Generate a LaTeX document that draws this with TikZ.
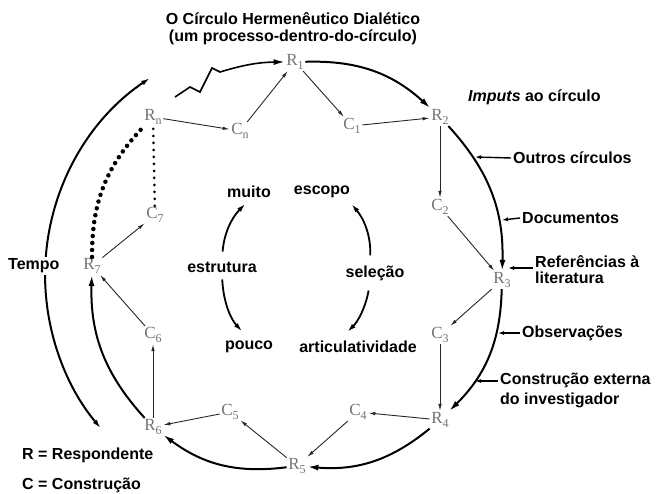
\documentclass[tikz,border=0pt]{standalone}
\usepackage{fontspec}
\setmainfont{Liberation Sans}
\newfontfamily\serifrc{Liberation Serif}
\usetikzlibrary{arrows.meta}
\newcommand{\rc}[2]{#1\raisebox{-3.5pt}{\fontsize{12}{12}\selectfont #2}}

\begin{document}
\begin{tikzpicture}[
    x=1pt, y=1pt,
    resp/.style={font=\serifrc\fontsize{17}{17}\selectfont, text=black!55, inner sep=1.5pt},
    lbl/.style={font=\bfseries\fontsize{16}{17}\selectfont, inner sep=2pt},
    link/.style={-{Latex[length=7pt,width=3.5pt]}, line width=0.9pt, black!85},
    bigarc/.style={-{Latex[length=11pt,width=6pt]}, line width=2pt},
    softarc/.style={-{Latex[length=9pt,width=5pt]}, line width=1.8pt},
    feed/.style={-{Latex[length=6pt,width=4pt]}, line width=1.4pt},
    dotline/.style={line width=#1, dash pattern=on 0pt off 7pt, line cap=round}
]
\useasboundingbox (0,0) rectangle (656,493);

\node[lbl, align=center] (title) at (293,464) {O Círculo Hermenêutico Dialético\\(um processo-dentro-do-círculo)};

\node[resp] (R1) at (295,431) {\rc{R}{1}};
\node[resp] (R2) at (440,376) {\rc{R}{2}};
\node[resp] (R3) at (502,213) {\rc{R}{3}};
\node[resp] (R4) at (440,73) {\rc{R}{4}};
\node[resp] (R5) at (297,27) {\rc{R}{5}};
\node[resp] (R6) at (153,66) {\rc{R}{6}};
\node[resp] (R7) at (92,227) {\rc{R}{7}};
\node[resp] (Rn) at (153,376) {\rc{R}{n}};
\node[resp] (C1) at (352,367) {\rc{C}{1}};
\node[resp] (C2) at (440,286) {\rc{C}{2}};
\node[resp] (C3) at (440,158) {\rc{C}{3}};
\node[resp] (C4) at (358,81) {\rc{C}{4}};
\node[resp] (C5) at (230,81) {\rc{C}{5}};
\node[resp] (C6) at (153,158) {\rc{C}{6}};
\node[resp] (C7) at (155,278) {\rc{C}{7}};
\node[resp] (Cn) at (240,362) {\rc{C}{n}};

\draw[link] (Cn) -- (R1);
\draw[link] (R1) -- (C1);
\draw[link] (C1) -- (R2);
\draw[link] (R2) -- (C2);
\draw[link] (C2) -- (R3);
\draw[link] (R3) -- (C3);
\draw[link] (C3) -- (R4);
\draw[link] (R4) -- (C4);
\draw[link] (C4) -- (R5);
\draw[link] (R5) -- (C5);
\draw[link] (C5) -- (R6);
\draw[link] (R6) -- (C6);
\draw[link] (C6) -- (R7);
\draw[link] (R7) -- (C7);
\draw[link] (Rn) -- (Cn);

\draw[bigarc] (R1) to[bend left=22] (R2);
\draw[bigarc] (R2) to[bend left=22] (R3);
\draw[bigarc] (R3) to[bend left=22] (R4);
\draw[bigarc] (R4) to[bend left=22] (R5);
\draw[bigarc] (R5) to[bend left=22] (R6);
\draw[bigarc] (R6) to[bend left=22] (R7);
\draw[dotline=4.5pt] (R7) to[bend left=22] (Rn);
\draw[dotline=3pt] (C7) -- (Rn);

\coordinate (zz) at (175,396);
\draw[bigarc, line width=1.6pt] (zz) -- ++(15,10) -- ++(10,-5) -- ++(12,24) -- ++(8,-4) to[bend left=8] (R1);

\coordinate (ttop) at (150,415);
\draw[softarc, {Latex[length=9pt,width=5pt]}-{Latex[length=9pt,width=5pt]}, line width=2pt] (ttop) arc[start angle=124, end angle=220, radius=238];
\node[lbl, fill=white, anchor=west] (tempo) at (6,227) {Tempo};

\node[lbl] (muito) at (249,301) {muito};
\node[lbl] (escopo) at (322,301) {escopo};
\node[lbl] (estrutura) at (222,226) {estrutura};
\node[lbl] (selecao) at (375,220) {seleção};
\node[lbl] (pouco) at (249,146) {pouco};
\node[lbl] (artic) at (358,146) {articulatividade};

\draw[softarc, shorten <=8pt, shorten >=5pt] (estrutura.north) to[bend left=20] (muito.south);
\draw[softarc, shorten <=5pt, shorten >=10pt] (estrutura.south) to[bend right=20] (pouco.north);
\draw[softarc, shorten <=8pt, shorten >=5pt] ([xshift=-5pt]selecao.north) to[bend right=21] ([xshift=-4pt]escopo.south east);
\draw[softarc, shorten <=8pt, shorten >=10pt] ([xshift=-5pt]selecao.south) to[bend left=18] ([xshift=-18pt]artic.north);

\node[lbl, anchor=west] (imputs) at (466,396) {\textit{Imputs} ao círculo};
\node[lbl, anchor=west] (outros) at (511,335) {Outros círculos};
\node[lbl, anchor=west] (docs) at (520,275) {Documentos};
\node[lbl, anchor=west, align=left] (refs) at (533,223) {Referências à\\[-1pt]literatura};
\node[lbl, anchor=west] (obs) at (520,160) {Observações};
\node[lbl, anchor=west, align=left] (constr) at (498,103) {Construção externa\\[3pt]do investigador};
\node[lbl, anchor=west] (legR) at (20,38) {R = Respondente};
\node[lbl, anchor=west] (legC) at (20,8) {C = Construção};

\coordinate (fo) at (475,336);
\coordinate (fd) at (502,273);
\coordinate (fr) at (508,225);
\coordinate (fb) at (498,160);
\coordinate (fc) at (475,112);
\draw[feed] (outros.west) -- (fo);
\draw[feed] (docs.west) -- (fd);
\draw[feed] ([yshift=2pt]refs.west) -- (fr);
\draw[feed] (obs.west) -- (fb);
\draw[feed] ([yshift=9pt]constr.west) -- (fc);
\end{tikzpicture}
\end{document}
